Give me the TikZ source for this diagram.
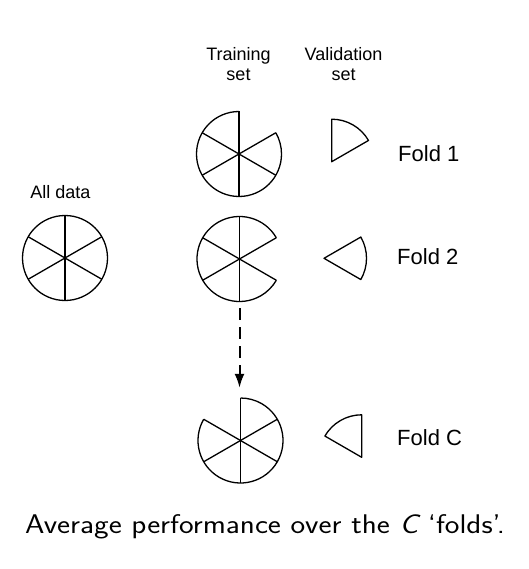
\documentclass[tikz,border=0pt]{standalone}
\usepackage{fontspec}
\newfontfamily\helv{Liberation Sans}
\newfontfamily\capfont{Latin Modern Sans}[FakeStretch=1.15,Ligatures=TeX]
\usetikzlibrary{arrows.meta}

\begin{document}
\begin{tikzpicture}[x=1pt,y=1pt,
  pie/.style={line width=1.3pt,line join=round},
  slot/.style={circle,minimum size=85pt,inner sep=0pt},
  head/.style={font=\helv\fontsize{18}{20}\selectfont,align=center,inner sep=0pt},
  fold/.style={font=\helv\fontsize{22}{24}\selectfont,anchor=west,inner sep=0pt}]
  \useasboundingbox (0,0) rectangle (528,-569);
  % column headers
  \node[head] (trhead) at (238.5,-64.5) {Training\\set};
  \node[head] (vahead) at (343.5,-64.5) {Validation\\set};
  % all data
  \node[head] (allhead) at (60.5,-192.5) {All data};
  \node[slot] (alldata) at (65,-258) {};
  \draw[pie] (alldata.center) circle (42.5);
  \foreach \a in {30,90,...,330}
    \draw[pie] (alldata.center) -- ++(\a:42.5);
  % training sets, one sector left out
  \node[slot] (train1) at (239,-154) {};
  \node[slot] (train2) at (239.5,-259) {};
  \node[slot] (trainC) at (240.5,-440.5) {};
  \foreach \n/\a in {train1/30,train2/-30,trainC/90} {
    \draw[pie] (\n.center) ++(\a+60:42.5) arc (\a+60:\a+360:42.5);
    \foreach \k in {0,...,5}
      \draw[pie] (\n.center) -- ++(\a+60*\k:42.5);
  }
  % validation sets
  \coordinate (valid1) at (331.7,-161.7);
  \coordinate (valid2) at (324,-258.3);
  \coordinate (validC) at (361.7,-457.3);
  \foreach \n/\a in {valid1/30,valid2/-30,validC/90}
    \draw[pie] (\n) -- ++(\a:42.5) arc (\a:\a+60:42.5) -- cycle;
  % fold labels
  \node[fold] (fold1) at (398,-153.5) {Fold 1};
  \node[fold] (fold2) at (397,-256.5) {Fold 2};
  \node[fold] (foldC) at (397,-437.5) {Fold C};
  % dashed arrow
  \draw[-{Latex[length=14pt,width=10pt]},line width=2pt,
        dash pattern=on 12pt off 7pt,shorten <=6.5pt,shorten >=10pt]
    (train2.south) -- (train2.south |- trainC.north);
  \node[anchor=base west,inner sep=0pt,font=\capfont\fontsize{27}{30}\selectfont]
    (caption) at (25,-533) {Average performance over the {\slshape C} ‘folds’.};
\end{tikzpicture}
\end{document}
